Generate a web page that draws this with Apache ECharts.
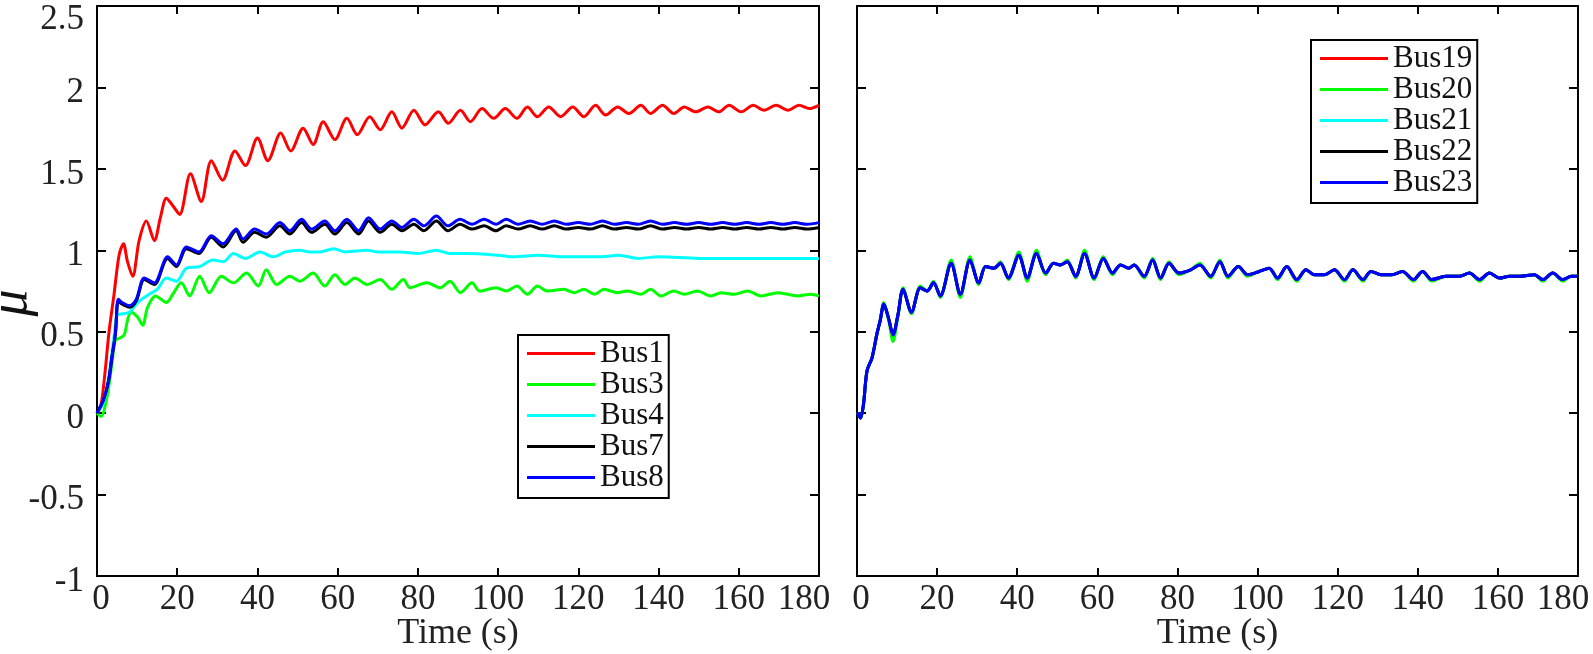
<!DOCTYPE html>
<html>
<head>
<meta charset="utf-8">
<script src="https://cdn.jsdelivr.net/npm/echarts@6/dist/echarts.min.js"></script>
<style>
  html, body { margin: 0; padding: 0; background: #fff; }
  #main { width: 1593px; height: 654px; }
</style>
</head>
<body>
<div id="main"></div>
<script>
// 读图得到的数据 [t(s), mu]
var leftNames = ['Bus1', 'Bus3', 'Bus4', 'Bus7', 'Bus8'];
var rightNames = ['Bus19', 'Bus20', 'Bus21', 'Bus22', 'Bus23'];
var xTicks = [0, 20, 40, 60, 80, 100, 120, 140, 160, 180];
var yTicks = [-1, -0.5, 0, 0.5, 1, 1.5, 2, 2.5];

var bus1 = [[0,0],[1,0.05],[2,0.25],[3,0.5],[4.2,0.72],[5.5,0.97],[6.6,1.04],[7.6,0.93],[8.9,0.84],[10.5,1.06],[12.3,1.18],[14.3,1.06],[15.8,1.2],[17.3,1.32],[19,1.27],[20.6,1.22],[23.3,1.47],[26,1.30],[28.5,1.55],[31.3,1.43],[34.4,1.61],[37,1.52],[40,1.69],[42.6,1.55],[45.8,1.72],[48.3,1.61],[51.4,1.75],[53.9,1.65],[56.4,1.79],[59.3,1.68],[62.3,1.81],[64.9,1.71],[68,1.82],[70.6,1.74],[73.5,1.85],[76,1.75],[79,1.86],[81.8,1.77],[85.1,1.85],[87.6,1.78],[90.6,1.86],[93.1,1.79],[96,1.87],[98.9,1.81],[101.8,1.87],[104.7,1.81],[107.3,1.88],[109.8,1.82],[112.6,1.88],[115.6,1.82],[118.6,1.88],[121.4,1.82],[124.3,1.89],[126.8,1.83],[129.8,1.88],[132.6,1.84],[135.6,1.89],[138,1.84],[141,1.89],[143.8,1.84],[146.4,1.88],[149.3,1.85],[152.3,1.88],[155,1.85],[157.6,1.89],[160.6,1.85],[163.6,1.89],[166.3,1.86],[169.3,1.89],[172.3,1.86],[175,1.89],[177.6,1.87],[180,1.89]];

var bus3 = [[0,0],[1,-0.02],[2.5,0.1],[3.7,0.30],[4.6,0.45],[5.6,0.46],[6.8,0.48],[7.6,0.57],[8.5,0.62],[10.1,0.59],[11.4,0.54],[12.6,0.65],[14.6,0.72],[17.3,0.68],[18.9,0.73],[21,0.80],[23.1,0.72],[25.6,0.84],[28,0.74],[31,0.84],[34,0.80],[37.3,0.86],[40.2,0.78],[42.2,0.88],[44.8,0.79],[48.1,0.84],[50.6,0.81],[53.9,0.86],[56.8,0.78],[59.3,0.85],[61.8,0.79],[64.3,0.83],[67.3,0.79],[70.6,0.82],[73.5,0.76],[76.4,0.82],[78,0.77],[82.2,0.80],[85.6,0.77],[88,0.81],[90.6,0.74],[93.5,0.80],[95.4,0.75],[99.5,0.77],[102,0.75],[104.7,0.78],[107.3,0.73],[109.8,0.78],[112.3,0.75],[116.4,0.76],[119,0.74],[121.4,0.76],[124,0.73],[126.4,0.76],[129.8,0.74],[132.3,0.75],[135.6,0.73],[138,0.76],[140.6,0.72],[143.8,0.75],[146.4,0.73],[149.7,0.75],[153,0.72],[155.6,0.74],[158.8,0.73],[162.2,0.75],[165.5,0.72],[169.8,0.74],[174.7,0.72],[178,0.73],[180,0.72]];

var bus4 = [[0,0],[1.5,0.06],[2.5,0.16],[3.5,0.33],[4.5,0.52],[5,0.60],[6.5,0.61],[8.1,0.62],[9.5,0.66],[10.6,0.69],[13,0.73],[15,0.76],[17.3,0.83],[19.8,0.81],[22.3,0.89],[25.6,0.90],[28.9,0.94],[31.5,0.93],[34,0.98],[37,0.95],[40.6,0.99],[44,0.96],[47,0.99],[50.6,1.0],[53,0.99],[55.6,0.99],[59,1.01],[62,0.99],[67.3,1.0],[70,0.99],[75.6,0.99],[80,0.98],[84.6,1.0],[88,0.98],[92,0.98],[100,0.97],[104,0.96],[110,0.97],[116,0.96],[122,0.96],[126,0.96],[130,0.97],[135,0.95],[140,0.96],[150,0.95],[160,0.95],[170,0.95],[180,0.95]];

var bus7 = [[0,0],[1.6,0.08],[2.9,0.2],[3.7,0.34],[4.6,0.49],[5.3,0.69],[6.2,0.67],[8.1,0.65],[9.8,0.69],[11.8,0.82],[14.3,0.79],[17.6,0.95],[19.8,0.90],[22.3,1.01],[25.4,0.98],[28.5,1.08],[31.4,1.02],[34.7,1.12],[36.4,1.05],[39.3,1.11],[42.2,1.08],[45.6,1.15],[48.1,1.10],[51,1.17],[53.5,1.11],[56.8,1.16],[59.3,1.10],[62.3,1.17],[65.2,1.10],[67.7,1.18],[70.6,1.11],[73.5,1.16],[76,1.12],[79,1.16],[81.5,1.12],[84.6,1.18],[87.5,1.12],[90.5,1.16],[93.5,1.13],[96.5,1.15],[99.5,1.12],[102,1.15],[105,1.13],[108,1.15],[111,1.13],[114,1.15],[117,1.13],[120,1.14],[123,1.13],[126,1.15],[129,1.13],[132,1.14],[135,1.13],[138,1.15],[141,1.13],[144,1.14],[147,1.13],[150,1.14],[153,1.13],[156,1.14],[159,1.13],[162,1.14],[165,1.13],[168,1.14],[171,1.13],[174,1.14],[177,1.13],[180,1.14]];

var bus8 = [[0,0],[1.6,0.08],[2.9,0.2],[3.7,0.34],[4.6,0.49],[5.3,0.70],[6.2,0.68],[8.1,0.66],[9.8,0.70],[11.8,0.83],[14.3,0.80],[17.6,0.96],[19.8,0.91],[22.3,1.02],[25.4,0.99],[28.5,1.09],[31.4,1.04],[34.7,1.13],[36.4,1.07],[39.3,1.13],[42.2,1.10],[45.6,1.17],[48.1,1.12],[51,1.19],[53.5,1.13],[56.8,1.18],[59.3,1.12],[62.3,1.19],[65.2,1.12],[67.7,1.20],[70.6,1.13],[73.5,1.18],[76,1.14],[79,1.19],[81.5,1.15],[84.6,1.21],[87.5,1.15],[90.5,1.19],[93.5,1.16],[96.5,1.19],[99.5,1.16],[102,1.19],[105,1.16],[108,1.18],[111,1.16],[114,1.18],[117,1.16],[120,1.17],[123,1.16],[126,1.18],[129,1.16],[132,1.17],[135,1.16],[138,1.18],[141,1.16],[144,1.17],[147,1.16],[150,1.17],[153,1.16],[156,1.17],[159,1.16],[162,1.17],[165,1.16],[168,1.17],[171,1.16],[174,1.17],[177,1.16],[180,1.17]];

// 右图 Bus19/21/22/23 在图上完全重合，读成同一组
var bus23 = [[0,0],[0.4,-0.01],[0.9,-0.03],[1.6,0.05],[2.5,0.26],[3.75,0.34],[5,0.49],[5.8,0.57],[6.7,0.67],[7.9,0.58],[9,0.48],[10.2,0.6],[11.5,0.76],[13.6,0.62],[15.8,0.77],[17.5,0.75],[19.1,0.80],[20.8,0.72],[23.5,0.92],[25.8,0.73],[28.2,0.94],[30.4,0.80],[32.1,0.90],[34.2,0.89],[35.8,0.92],[37.8,0.83],[40.4,0.97],[42.5,0.83],[44.8,0.98],[47.1,0.86],[49.1,0.92],[50.8,0.91],[52.5,0.93],[54.6,0.84],[56.8,0.98],[59.2,0.83],[61.5,0.95],[63.8,0.86],[65.8,0.91],[67.9,0.89],[69.2,0.91],[71.7,0.84],[73.8,0.94],[75.8,0.83],[77.9,0.92],[80.4,0.86],[83.3,0.88],[85.6,0.91],[88.3,0.84],[90.6,0.93],[92.6,0.84],[95.2,0.90],[97.5,0.85],[100.4,0.87],[102.9,0.89],[105,0.83],[107.3,0.90],[109.8,0.82],[112.1,0.88],[114.2,0.85],[116.7,0.85],[119.2,0.88],[121.7,0.82],[123.8,0.88],[126.3,0.82],[128.3,0.87],[130.8,0.85],[133.5,0.85],[136.2,0.87],[138.9,0.82],[141.2,0.87],[143.5,0.82],[147,0.84],[150.4,0.84],[152.9,0.86],[155.4,0.82],[157.9,0.86],[160.4,0.83],[162.9,0.84],[165.4,0.84],[169.1,0.85],[171.2,0.82],[173.7,0.86],[176.2,0.82],[178.3,0.84],[180,0.84]];

var bus20 = [[0,0],[0.4,-0.01],[0.9,-0.03],[1.6,0.05],[2.5,0.26],[3.75,0.34],[5,0.49],[5.8,0.57],[6.7,0.68],[7.9,0.57],[9,0.44],[10.2,0.59],[11.5,0.77],[13.6,0.61],[15.8,0.78],[17.5,0.75],[19.1,0.81],[20.8,0.71],[23.5,0.94],[25.8,0.71],[28.2,0.96],[30.4,0.79],[32.1,0.90],[34.2,0.89],[35.8,0.93],[37.8,0.82],[40.4,0.99],[42.5,0.81],[44.8,1.00],[47.1,0.85],[49.1,0.92],[50.8,0.91],[52.5,0.94],[54.6,0.83],[56.8,1.00],[59.2,0.82],[61.5,0.96],[63.8,0.85],[65.8,0.91],[67.9,0.89],[69.2,0.91],[71.7,0.83],[73.8,0.95],[75.8,0.82],[77.9,0.93],[80.4,0.85],[83.3,0.88],[85.6,0.92],[88.3,0.83],[90.6,0.94],[92.6,0.83],[95.2,0.90],[97.5,0.84],[100.4,0.87],[102.9,0.89],[105,0.82],[107.3,0.90],[109.8,0.81],[112.1,0.88],[114.2,0.85],[116.7,0.85],[119.2,0.88],[121.7,0.81],[123.8,0.88],[126.3,0.81],[128.3,0.87],[130.8,0.85],[133.5,0.85],[136.2,0.87],[138.9,0.81],[141.2,0.87],[143.5,0.81],[147,0.84],[150.4,0.84],[152.9,0.86],[155.4,0.81],[157.9,0.86],[160.4,0.83],[162.9,0.84],[165.4,0.84],[169.1,0.85],[171.2,0.81],[173.7,0.86],[176.2,0.81],[178.3,0.84],[180,0.84]];

var colors = ['#ff0000', '#00ff00', '#00ffff', '#000000', '#0000ff'];
var leftData = [bus1, bus3, bus4, bus7, bus8];
var rightData = [bus23, bus20, bus23, bus23, bus23];

var font = '"Liberation Serif", serif';
var lab = { fontFamily: font, fontSize: 35, color: '#222' };
var myChart = echarts.init(document.getElementById('main'));

function xAx(grid, pos, labels) {
    return {
        type: 'value', gridIndex: grid, position: pos,
        min: xTicks[0], max: xTicks[xTicks.length - 1], interval: 20,
        name: labels ? 'Time (s)' : '', nameLocation: 'middle', nameGap: 40, nameMoveOverlap: false,
        nameTextStyle: { fontFamily: font, fontSize: 36, color: '#222' },
        axisLine: { show: true, onZero: false, lineStyle: { color: '#000', width: 2 } },
        axisTick: { show: true, inside: true, length: 8, lineStyle: { color: '#000', width: 2 } },
        axisLabel: {
            show: labels, margin: 6, fontFamily: font, fontSize: 35, color: '#222',
            // 首尾刻度标签向内收
            formatter: function (v) {
                if (v === xTicks[0]) return '{a|' + v + '}';
                if (v === xTicks[xTicks.length - 1]) return '{b|' + v + '}';
                return '' + v;
            },
            rich: {
                a: Object.assign({ padding: [0, 0, 0, 8] }, lab),
                b: Object.assign({ padding: [0, 30, 0, 0] }, lab)
            }
        },
        splitLine: { show: false }
    };
}
function yAx(grid, pos, labels) {
    return {
        type: 'value', gridIndex: grid, position: pos,
        min: yTicks[0], max: yTicks[yTicks.length - 1], interval: 0.5,
        name: labels ? '\u03bc' : '', nameLocation: 'middle', nameGap: 58, nameRotate: 90,
        nameMoveOverlap: false,
        nameTextStyle: { fontFamily: font, fontStyle: 'italic', fontSize: 54, color: '#111', padding: [0, 24, 0, 0] },
        axisLine: { show: true, onZero: false, lineStyle: { color: '#000', width: 2 } },
        axisTick: { show: true, inside: true, length: 9, lineStyle: { color: '#000', width: 2 } },
        axisLabel: {
            show: labels, margin: 13, fontFamily: font, fontSize: 35, color: '#222',
            // 标签比刻度略低，最上面的 2.5 更低一些
            formatter: function (v) {
                return v === yTicks[yTicks.length - 1] ? '{t|' + v + '}' : '{n|' + v + '}';
            },
            rich: {
                t: Object.assign({ padding: [27, 0, 0, 0] }, lab),
                n: Object.assign({ padding: [11, 0, 0, 0] }, lab)
            }
        },
        splitLine: { show: false }
    };
}

var series = [];
leftNames.forEach(function (n, i) {
    series.push({
        name: n, type: 'line', xAxisIndex: 0, yAxisIndex: 0, data: leftData[i],
        symbol: 'none', smooth: 0.3, color: colors[i], lineStyle: { width: 3 }
    });
});
rightNames.forEach(function (n, i) {
    series.push({
        name: n, type: 'line', xAxisIndex: 2, yAxisIndex: 2, data: rightData[i],
        symbol: 'none', smooth: 0.3, color: colors[i], lineStyle: { width: 3 }
    });
});

function legendOf(names, left, top) {
    return {
        data: names, orient: 'vertical', left: left, top: top,
        padding: [3, 5, 5, 9], itemGap: 0, itemWidth: 68, itemHeight: 3, icon: 'rect',
        borderColor: '#000', borderWidth: 2, backgroundColor: '#fff',
        textStyle: { fontFamily: font, fontSize: 31, lineHeight: 31, color: '#111' }
    };
}

var option = {
    animation: false,
    backgroundColor: '#fff',
    grid: [
        { left: 97, top: 6, width: 722, height: 570, outerBoundsMode: 'none' },
        { left: 857, top: 6, width: 721, height: 570, outerBoundsMode: 'none' }
    ],
    xAxis: [xAx(0, 'bottom', true), xAx(0, 'top', false), xAx(1, 'bottom', true), xAx(1, 'top', false)],
    yAxis: [yAx(0, 'left', true), yAx(0, 'right', false), yAx(1, 'left', false), yAx(1, 'right', false)],
    legend: [legendOf(leftNames, 518, 335), legendOf(rightNames, 1311, 40)],
    series: series
};
myChart.setOption(option);
</script>
</body>
</html>
